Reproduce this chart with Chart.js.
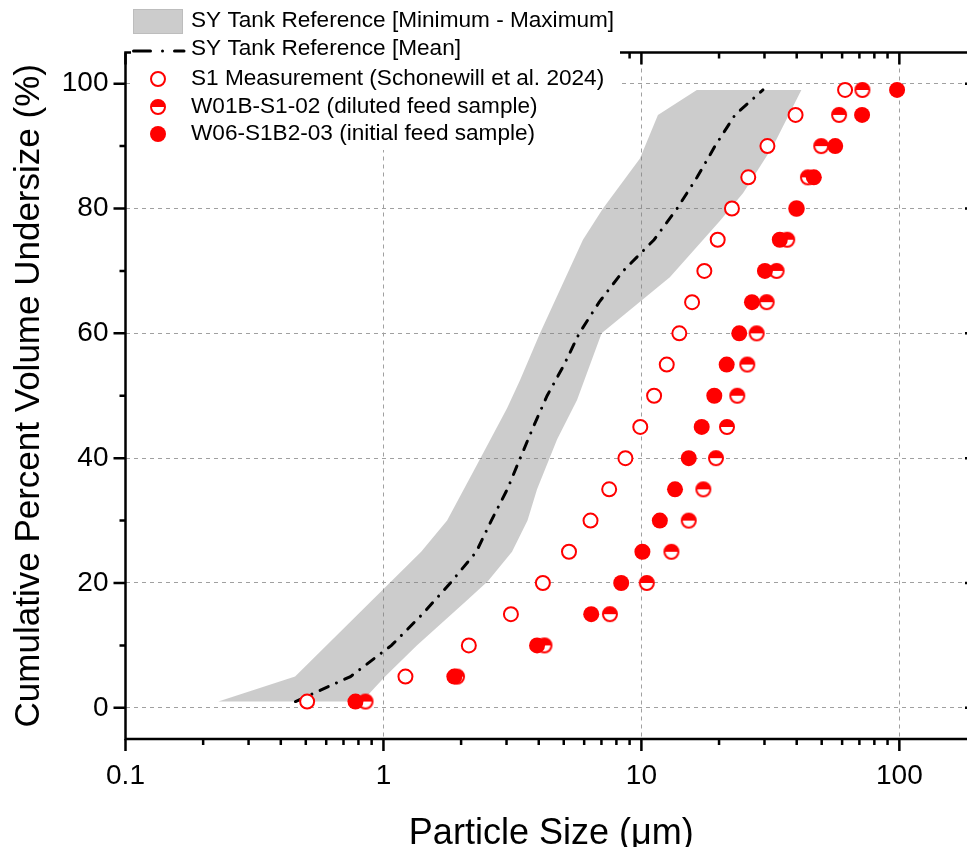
<!DOCTYPE html>
<html>
<head>
<meta charset="utf-8">
<script src="https://cdn.jsdelivr.net/npm/chart.js@4.4.1/dist/chart.umd.min.js"></script>
<style>
  html, body { margin: 0; padding: 0; background: #fff; overflow: hidden; }
  canvas { display: block; }
</style>
</head>
<body>
<!-- el lienzo es mas ancho que la ventana: el eje derecho queda cortado como en la figura -->
<canvas id="psdChart" width="1000" height="847"></canvas>
<script>
/* Datos: tamano de particula (um) vs % acumulado */
const pctLevels = [1, 5, 10, 15, 20, 25, 30, 35, 40, 45, 50, 55, 60, 65, 70, 75, 80, 85, 90, 95, 99];
const s1Sizes = [0.506, 1.217, 2.143, 3.12, 4.15, 5.24, 6.35, 7.5, 8.67, 9.9, 11.2, 12.54, 14.03, 15.72, 17.54, 19.76, 22.44, 25.96, 30.8, 39.6, 61.6];
const w01bSizes = [0.852, 1.929, 4.21, 7.55, 10.49, 13.07, 15.26, 17.38, 19.46, 21.47, 23.53, 25.73, 27.98, 30.59, 33.43, 36.75, 39.9, 44.2, 49.8, 58.4, 71.9];
const w06Sizes = [0.779, 1.883, 3.94, 6.39, 8.35, 10.09, 11.79, 13.5, 15.26, 17.13, 19.17, 21.41, 23.95, 26.83, 30.12, 34.4, 39.96, 46.6, 56.4, 71.7, 98];
const meanSizes = [0.456, 0.745, 1.074, 1.416, 1.817, 2.291, 2.619, 3.02, 3.39, 3.81, 4.31, 5.02, 5.74, 6.86, 8.5, 11.2, 13.75, 16.43, 19.29, 23.06, 29.6];

// banda min - max: borde fino (izquierda) y borde grueso (derecha)
const bandFineSizes = [0.229, 0.4545, 1.4, 1.765, 2.307, 3.014, 3.383, 4.045, 5.935, 7.095, 9.87, 11.59, 16.4];
const bandFinePct = [1, 5, 25, 30, 39, 48, 52.5, 60, 75, 80, 88, 95, 99];
const bandCoarseSizes = [0.825, 1.015, 1.347, 2.104, 2.544, 3.151, 3.618, 3.94, 4.71, 5.63, 7.01, 12.89, 20.14, 24.8, 32.4, 41.7];
const bandCoarsePct = [1, 5, 10, 17.2, 20.3, 25, 30, 35, 43, 49.3, 60, 69, 78, 82.5, 90, 99];

// ticks de los ejes
const xMajorTicks = [0.1, 1, 10, 100];
const xMinorTicks = [0.2, 0.3, 0.4, 0.5, 0.6, 0.7, 0.8, 0.9, 2, 3, 4, 5, 6, 7, 8, 9, 20, 30, 40, 50, 60, 70, 80, 90];
const yMajorTicks = [0, 20, 40, 60, 80, 100];
const yMinorTicks = [10, 30, 50, 70, 90];

const RED = "#ff0000";
const BAND = "rgba(128, 128, 128, 0.4)";
const GRID = "#a0a0a0";
const FONT = "'Liberation Sans', Arial, sans-serif";
const MEAN_DASH = [9, 9, 0.01, 9];

Chart.defaults.font.family = FONT;
Chart.defaults.color = "#000";

function pairUp(xs, ys) {
  return xs.map((v, i) => ({ x: v, y: ys[i] }));
}

// poligono de la banda: sube por el borde fino y baja por el grueso
const bandPolygon = pairUp(bandFineSizes, bandFinePct).concat(
  pairUp(bandCoarseSizes, bandCoarsePct).reverse()
);

// marcador medio lleno (mitad de arriba roja)
function halfMarker(r) {
  const c = document.createElement("canvas");
  const s = 2 * r + 6;
  c.width = s;
  c.height = s;
  const g = c.getContext("2d");
  const m = s / 2;
  g.beginPath();
  g.arc(m, m, r, 0, 2 * Math.PI);
  g.fillStyle = "#fff";
  g.fill();
  g.beginPath();
  g.arc(m, m, r, Math.PI, 2 * Math.PI);
  g.closePath();
  g.fillStyle = RED;
  g.fill();
  g.beginPath();
  g.arc(m, m, r, 0, 2 * Math.PI);
  g.strokeStyle = RED;
  g.lineWidth = 2;
  g.stroke();
  return c;
}
const halfImg = halfMarker(7);

// marco del grafico y marcas de los ejes (por los 4 lados)
const axisFrame = {
  id: "axisFrame",
  afterDatasetsDraw(chart) {
    const { ctx, chartArea: a, scales } = chart;
    const sx = scales.x;
    const sy = scales.y;
    ctx.save();
    ctx.strokeStyle = "#000";
    ctx.lineWidth = 2.5;
    ctx.beginPath();
    ctx.rect(a.left, a.top, a.right - a.left, a.bottom - a.top);
    ctx.stroke();

    ctx.beginPath();
    const tickX = (v, len) => {
      const p = sx.getPixelForValue(v);
      ctx.moveTo(p, a.bottom);
      ctx.lineTo(p, a.bottom + len);
      ctx.moveTo(p, a.top);
      ctx.lineTo(p, a.top + len);
    };
    const tickY = (v, len) => {
      const p = sy.getPixelForValue(v);
      ctx.moveTo(a.left, p);
      ctx.lineTo(a.left - len, p);
      ctx.moveTo(a.right, p);
      ctx.lineTo(a.right - len, p);
    };
    xMajorTicks.forEach(v => tickX(v, 12));
    xMinorTicks.forEach(v => tickX(v, 6));
    yMajorTicks.forEach(v => tickY(v, 12));
    yMinorTicks.forEach(v => tickY(v, 6));
    ctx.stroke();
    ctx.restore();
  }
};

// leyenda arriba a la izquierda, con fondo blanco
const legendBox = {
  id: "legendBox",
  afterDraw(chart) {
    const ctx = chart.ctx;
    const ds = chart.data.datasets;
    const textX = 191;
    const rows = [21, 49, 79, 107, 134];
    ctx.save();
    ctx.fillStyle = "#fff";
    ctx.fillRect(131, 0, 489, 150);

    // banda
    ctx.fillStyle = "#cccccc";
    ctx.fillRect(133, 9, 50, 25);
    ctx.strokeStyle = "#bdbdbd";
    ctx.lineWidth = 1;
    ctx.strokeRect(133.5, 9.5, 49, 24);

    // media
    ctx.strokeStyle = "#000";
    ctx.lineWidth = 3;
    ctx.lineCap = "round";
    ctx.setLineDash([17, 12, 0.01, 12]);
    ctx.beginPath();
    ctx.moveTo(133.5, 51);
    ctx.lineTo(184, 51);
    ctx.stroke();
    ctx.setLineDash([]);

    // S1 circulo abierto
    ctx.beginPath();
    ctx.arc(158, rows[2], 7, 0, 2 * Math.PI);
    ctx.fillStyle = "#fff";
    ctx.fill();
    ctx.strokeStyle = RED;
    ctx.lineWidth = 2;
    ctx.stroke();

    // W01B medio lleno
    ctx.drawImage(halfImg, 158 - halfImg.width / 2, rows[3] - halfImg.height / 2);

    // W06 lleno
    ctx.beginPath();
    ctx.arc(158, rows[4], 8, 0, 2 * Math.PI);
    ctx.fillStyle = RED;
    ctx.fill();

    const labels = [ds[4].label, ds[3].label, ds[2].label, ds[1].label, ds[0].label];
    ctx.fillStyle = "#000";
    ctx.font = "22.6px " + FONT;
    ctx.textBaseline = "middle";
    labels.forEach((t, i) => ctx.fillText(t, textX, rows[i]));
    ctx.restore();
  }
};

new Chart(document.getElementById("psdChart"), {
  type: "scatter",
  data: {
    datasets: [
      {
        label: "W06-S1B2-03 (initial feed sample)",
        data: pairUp(w06Sizes, pctLevels),
        pointStyle: "circle",
        pointRadius: 8,
        backgroundColor: RED,
        borderWidth: 0
      },
      {
        label: "W01B-S1-02 (diluted feed sample)",
        data: pairUp(w01bSizes, pctLevels),
        pointStyle: halfImg
      },
      {
        label: "S1 Measurement (Schonewill et al. 2024)",
        data: pairUp(s1Sizes, pctLevels),
        pointStyle: "circle",
        pointRadius: 7,
        backgroundColor: "#fff",
        borderColor: RED,
        borderWidth: 2
      },
      {
        label: "SY Tank Reference [Mean]",
        data: pairUp(meanSizes, pctLevels),
        showLine: true,
        borderColor: "#000",
        borderWidth: 3,
        borderDash: MEAN_DASH,
        borderCapStyle: "round",
        pointRadius: 0,
        fill: false
      },
      {
        label: "SY Tank Reference [Minimum - Maximum]",
        data: bandPolygon,
        showLine: true,
        fill: "shape",
        backgroundColor: BAND,
        borderWidth: 0,
        pointRadius: 0
      }
    ]
  },
  options: {
    responsive: false,
    animation: false,
    events: [],
    devicePixelRatio: 1,
    layout: { padding: { top: 52.5, right: 23, bottom: 0, left: 0 } },
    plugins: {
      legend: { display: false },
      tooltip: { enabled: false }
    },
    scales: {
      x: {
        type: "logarithmic",
        min: 0.1,
        max: 200,
        afterBuildTicks: s => {
          s.ticks = xMajorTicks.concat(xMinorTicks).map(v => ({ value: v }));
        },
        afterFit: s => {
          s.height = 108;
        },
        ticks: {
          autoSkip: false,
          maxRotation: 0,
          padding: 20,
          color: "#000",
          font: { size: 28 },
          callback: v => (xMajorTicks.includes(v) ? String(v) : "")
        },
        grid: {
          color: c => (c.tick && xMajorTicks.includes(c.tick.value) ? GRID : "rgba(0,0,0,0)"),
          lineWidth: 1,
          drawTicks: false
        },
        border: { display: false, dash: [4, 4] },
        title: {
          display: true,
          text: "Particle Size (μm)",
          color: "#000",
          font: { size: 36, lineHeight: 1 },
          padding: { top: 0, bottom: -5 }
        }
      },
      y: {
        min: -5,
        max: 105,
        afterBuildTicks: s => {
          s.ticks = yMajorTicks.concat(yMinorTicks).map(v => ({ value: v }));
        },
        afterFit: s => {
          s.width = 125.5;
        },
        ticks: {
          autoSkip: false,
          padding: 17,
          color: "#000",
          font: { size: 28 },
          callback: v => (yMajorTicks.includes(v) ? String(v) : "")
        },
        grid: {
          color: c => (c.tick && yMajorTicks.includes(c.tick.value) ? GRID : "rgba(0,0,0,0)"),
          lineWidth: 1,
          drawTicks: false
        },
        border: { display: false, dash: [4, 4] },
        title: {
          display: true,
          text: "Cumulative Percent Volume Undersize (%)",
          color: "#000",
          font: { size: 35, lineHeight: 1 },
          padding: { top: 12, bottom: 0 }
        }
      }
    }
  },
  plugins: [axisFrame, legendBox]
});
</script>
</body>
</html>
